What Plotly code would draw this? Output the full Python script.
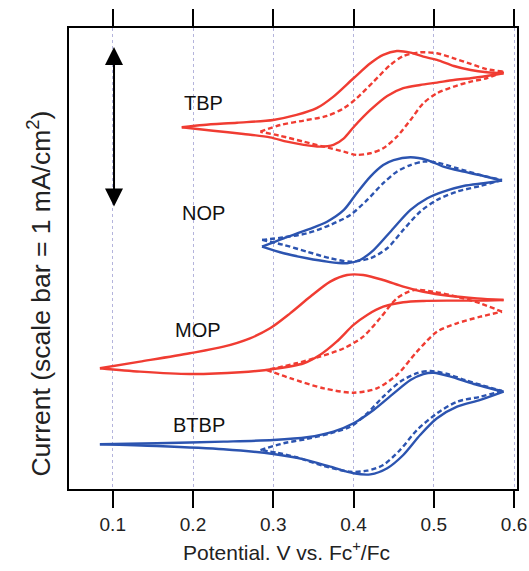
import plotly.graph_objects as go

# ---- data: potential (V vs Fc+/Fc) and offset current (mA/cm^2) ----
# TBP
tbp_solid_fwd_E = [0.186, 0.213, 0.255, 0.300, 0.329, 0.354, 0.375, 0.400, 0.421, 0.437, 0.454, 0.471, 0.487, 0.504, 0.525, 0.546, 0.566, 0.587]
tbp_solid_fwd_I = [2.247, 2.261, 2.275, 2.292, 2.323, 2.365, 2.437, 2.551, 2.644, 2.696, 2.720, 2.710, 2.685, 2.665, 2.627, 2.602, 2.588, 2.582]
tbp_solid_rev_E = [0.587, 0.566, 0.546, 0.525, 0.504, 0.483, 0.462, 0.442, 0.421, 0.400, 0.388, 0.375, 0.358, 0.338, 0.317, 0.296, 0.263, 0.225, 0.186]
tbp_solid_rev_I = [2.582, 2.565, 2.551, 2.540, 2.524, 2.509, 2.489, 2.441, 2.354, 2.247, 2.178, 2.137, 2.126, 2.137, 2.157, 2.184, 2.205, 2.225, 2.247]
tbp_dash_fwd_E = [0.284, 0.309, 0.338, 0.367, 0.388, 0.404, 0.425, 0.446, 0.462, 0.483, 0.504, 0.525, 0.546, 0.566, 0.587]
tbp_dash_fwd_I = [2.219, 2.261, 2.288, 2.317, 2.365, 2.427, 2.530, 2.634, 2.689, 2.712, 2.706, 2.675, 2.640, 2.607, 2.592]
tbp_dash_rev_E = [0.587, 0.566, 0.546, 0.525, 0.504, 0.487, 0.471, 0.454, 0.437, 0.421, 0.404, 0.388, 0.363, 0.338, 0.309, 0.284]
tbp_dash_rev_I = [2.592, 2.551, 2.530, 2.499, 2.458, 2.396, 2.292, 2.188, 2.116, 2.085, 2.075, 2.095, 2.126, 2.157, 2.193, 2.219]

# NOP
nop_solid_fwd_E = [0.286, 0.313, 0.342, 0.367, 0.388, 0.404, 0.421, 0.437, 0.450, 0.471, 0.492, 0.512, 0.537, 0.562, 0.585]
nop_solid_fwd_I = [1.505, 1.557, 1.609, 1.660, 1.733, 1.837, 1.940, 2.012, 2.043, 2.060, 2.043, 2.002, 1.971, 1.944, 1.915]
nop_solid_rev_E = [0.585, 0.562, 0.537, 0.512, 0.492, 0.471, 0.446, 0.425, 0.408, 0.392, 0.367, 0.342, 0.313, 0.286]
nop_solid_rev_I = [1.915, 1.899, 1.882, 1.847, 1.806, 1.733, 1.598, 1.484, 1.422, 1.402, 1.412, 1.433, 1.464, 1.505]
nop_dash_fwd_E = [0.286, 0.313, 0.342, 0.371, 0.396, 0.417, 0.437, 0.454, 0.471, 0.487, 0.504, 0.529, 0.558, 0.585]
nop_dash_fwd_I = [1.547, 1.563, 1.588, 1.640, 1.702, 1.795, 1.899, 1.971, 2.012, 2.033, 2.027, 1.992, 1.950, 1.919]
nop_dash_rev_E = [0.585, 0.558, 0.529, 0.504, 0.483, 0.462, 0.442, 0.421, 0.396, 0.371, 0.342, 0.313, 0.286]
nop_dash_rev_I = [1.919, 1.882, 1.847, 1.795, 1.722, 1.609, 1.495, 1.433, 1.412, 1.433, 1.474, 1.516, 1.547]

# MOP
mop_solid_fwd_E = [0.084, 0.134, 0.196, 0.238, 0.271, 0.296, 0.321, 0.346, 0.371, 0.392, 0.412, 0.437, 0.462, 0.487, 0.521, 0.554, 0.587]
mop_solid_fwd_I = [0.750, 0.791, 0.843, 0.884, 0.936, 0.998, 1.091, 1.194, 1.288, 1.329, 1.329, 1.298, 1.257, 1.225, 1.199, 1.184, 1.174]
mop_solid_rev_E = [0.587, 0.554, 0.521, 0.487, 0.462, 0.437, 0.417, 0.400, 0.379, 0.358, 0.338, 0.300, 0.259, 0.196, 0.134, 0.084]
mop_solid_rev_I = [1.174, 1.170, 1.170, 1.168, 1.160, 1.132, 1.081, 1.019, 0.915, 0.832, 0.781, 0.745, 0.725, 0.714, 0.729, 0.750]
mop_dash_a_E = [0.292, 0.321, 0.363, 0.400, 0.429, 0.454, 0.479, 0.504, 0.529, 0.558, 0.585]
mop_dash_a_I = [0.739, 0.688, 0.625, 0.598, 0.625, 0.708, 0.853, 0.977, 1.029, 1.070, 1.101]
mop_dash_b_E = [0.585, 0.558, 0.529, 0.500, 0.475, 0.454, 0.433, 0.412, 0.388, 0.358, 0.329, 0.292]
mop_dash_b_I = [1.101, 1.153, 1.194, 1.225, 1.236, 1.184, 1.060, 0.946, 0.874, 0.822, 0.781, 0.739]

# BTBP
btbp_solid_fwd_E = [0.084, 0.155, 0.238, 0.300, 0.342, 0.375, 0.400, 0.425, 0.450, 0.471, 0.487, 0.500, 0.521, 0.550, 0.587]
btbp_solid_fwd_I = [0.278, 0.284, 0.294, 0.304, 0.321, 0.356, 0.408, 0.491, 0.594, 0.677, 0.714, 0.722, 0.698, 0.652, 0.604]
btbp_solid_rev_E = [0.587, 0.558, 0.529, 0.504, 0.483, 0.462, 0.442, 0.421, 0.400, 0.371, 0.338, 0.300, 0.238, 0.155, 0.084]
btbp_solid_rev_I = [0.604, 0.553, 0.511, 0.439, 0.335, 0.211, 0.129, 0.091, 0.098, 0.139, 0.184, 0.217, 0.247, 0.267, 0.278]
btbp_dash_fwd_E = [0.284, 0.313, 0.342, 0.371, 0.396, 0.417, 0.437, 0.458, 0.479, 0.496, 0.517, 0.541, 0.585]
btbp_dash_fwd_I = [0.242, 0.284, 0.311, 0.346, 0.387, 0.470, 0.573, 0.666, 0.719, 0.733, 0.714, 0.673, 0.609]
btbp_dash_rev_E = [0.585, 0.558, 0.529, 0.504, 0.479, 0.458, 0.437, 0.417, 0.396, 0.363, 0.329, 0.305, 0.284]
btbp_dash_rev_I = [0.609, 0.573, 0.542, 0.470, 0.366, 0.242, 0.149, 0.114, 0.107, 0.143, 0.197, 0.225, 0.242]

labels = ["TBP", "NOP", "MOP", "BTBP"]
label_E = [0.213, 0.213, 0.206, 0.207]
label_I = [2.398, 1.715, 0.988, 0.398]

x_ticks = [0.1, 0.2, 0.3, 0.4, 0.5, 0.6]
scale_bar_E = 0.1016
scale_bar_I = [1.745, 2.745]

x_title = "Potential. V vs. Fc<sup>+</sup>/Fc"
y_title = "Current (scale bar = 1 mA/cm<sup>2</sup>)"

RED = "#f03c32"
BLUE = "#2c54b0"

fig = go.Figure()

def add(E, I, color, dash):
    fig.add_trace(go.Scatter(x=E, y=I, mode="lines",
                             line=dict(color=color, width=2.4, dash=dash, shape="spline", smoothing=0.8),
                             hoverinfo="skip", showlegend=False))

D = "5px,3px"
add(tbp_solid_fwd_E, tbp_solid_fwd_I, RED, "solid")
add(tbp_solid_rev_E, tbp_solid_rev_I, RED, "solid")
add(tbp_dash_fwd_E, tbp_dash_fwd_I, RED, D)
add(tbp_dash_rev_E, tbp_dash_rev_I, RED, D)
add(nop_solid_fwd_E, nop_solid_fwd_I, BLUE, "solid")
add(nop_solid_rev_E, nop_solid_rev_I, BLUE, "solid")
add(nop_dash_fwd_E, nop_dash_fwd_I, BLUE, D)
add(nop_dash_rev_E, nop_dash_rev_I, BLUE, D)
add(mop_solid_fwd_E, mop_solid_fwd_I, RED, "solid")
add(mop_solid_rev_E, mop_solid_rev_I, RED, "solid")
add(mop_dash_a_E, mop_dash_a_I, RED, D)
add(mop_dash_b_E, mop_dash_b_I, RED, D)
add(btbp_solid_fwd_E, btbp_solid_fwd_I, BLUE, "solid")
add(btbp_solid_rev_E, btbp_solid_rev_I, BLUE, "solid")
add(btbp_dash_fwd_E, btbp_dash_fwd_I, BLUE, D)
add(btbp_dash_rev_E, btbp_dash_rev_I, BLUE, D)

FONT = "Liberation Sans, Arial"
for t, xe, yi in zip(labels, label_E, label_I):
    fig.add_annotation(x=xe, y=yi, text=t, showarrow=False,
                       font=dict(family=FONT, size=20, color="#111"))

# double-headed scale bar
fig.add_annotation(x=scale_bar_E, y=scale_bar_I[1], ax=scale_bar_E, ay=scale_bar_I[0],
                   xref="x", yref="y", axref="x", ayref="y", text="",
                   showarrow=True, arrowhead=2, startarrowhead=2, arrowside="end+start",
                   arrowsize=1.8, startarrowsize=1.8, arrowwidth=2, arrowcolor="#000")

# axis titles
fig.add_annotation(xref="paper", yref="paper", x=0.4855, y=-0.1345, text=x_title,
                   showarrow=False, font=dict(family=FONT, size=21, color="#222"),
                   xanchor="center", yanchor="middle")
fig.add_annotation(xref="paper", yref="paper", x=-0.068, y=0.423, text=y_title,
                   showarrow=False, textangle=-90, font=dict(family=FONT, size=26.5, color="#222"),
                   xanchor="center", yanchor="middle")

fig.update_layout(
    width=529, height=571,
    margin=dict(l=69, r=12, t=28, b=82, autoexpand=False),
    paper_bgcolor="white", plot_bgcolor="white",
    font=dict(family=FONT, color="#222"),
    xaxis=dict(range=[0.0455, 0.6037], tickvals=x_ticks, ticktext=[f"{v:.1f}" for v in x_ticks],
               ticks="outside", ticklen=17, tickwidth=2, tickcolor="#000",
               mirror="allticks", showline=True, linecolor="#000", linewidth=2,
               showgrid=True, gridcolor="#b4b4dc", gridwidth=1, griddash="dot",
               zeroline=False, tickfont=dict(size=19), automargin=False),
    yaxis=dict(range=[0, 2.863], showticklabels=False, ticks="", showgrid=False,
               zeroline=False, showline=True, mirror=True, linecolor="#000", linewidth=2,
               automargin=False),
)

fig.write_html("out.html", config={"displayModeBar": False},
               post_script="document.body.style.margin='0';document.body.style.overflow='hidden';")
